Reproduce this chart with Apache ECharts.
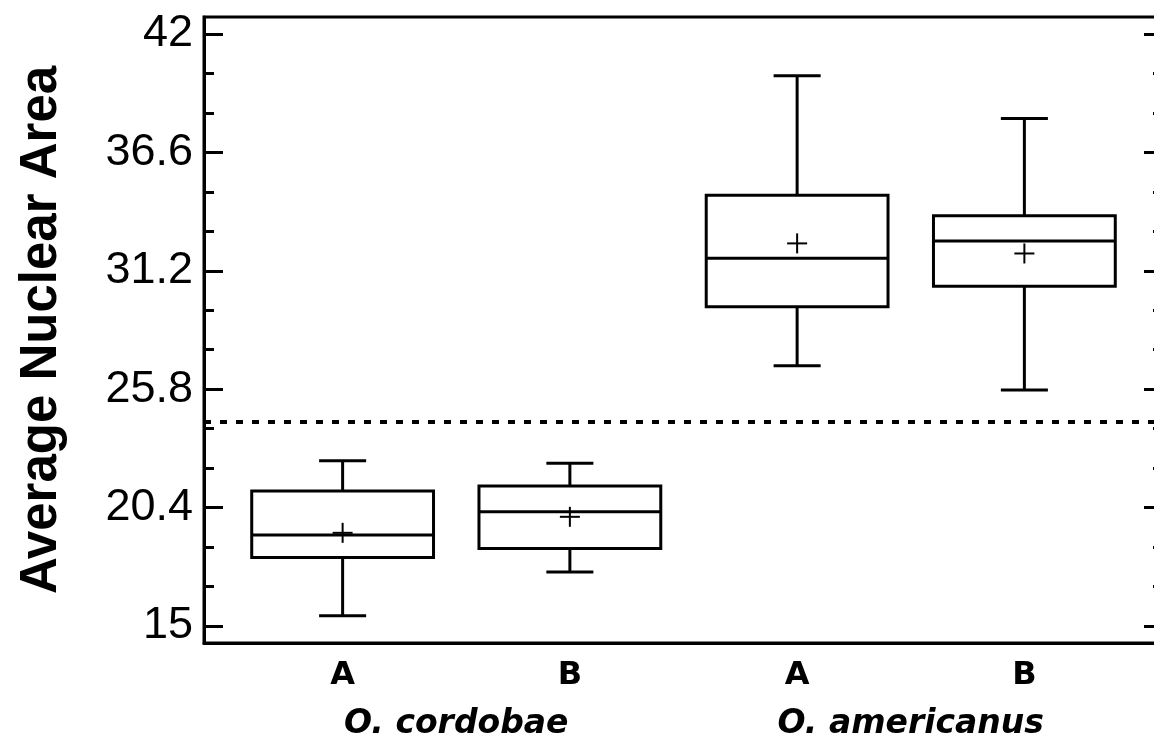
<!DOCTYPE html>
<html>
<head>
<meta charset="utf-8">
<script src="https://cdn.jsdelivr.net/npm/echarts@6/dist/echarts.min.js"></script>
<style>
html,body{margin:0;padding:0;background:#fff;}
#chart{width:1154px;height:740px;}
</style>
</head>
<body>
<div id="chart"></div>
<script>
// ---- data ----
const subgroups = ['A', 'B', 'A', 'B'];
const species = ['O. cordobae', 'O. americanus'];
const positions = [1, 2, 3, 4];
const speciesPositions = [1.5, 3.5];
const whiskerLow = [15.47, 17.46, 26.87, 25.76];
const q1 = [18.13, 18.54, 29.56, 30.50];
const median = [19.15, 20.21, 31.77, 32.56];
const q3 = [21.16, 21.38, 34.65, 33.71];
const whiskerHigh = [22.54, 22.42, 40.09, 38.15];
const means = [19.25, 19.98, 32.45, 31.99];
const threshold = 24.32;
const yMajorTicks = [15, 20.4, 25.8, 31.2, 36.6, 42];
const yMinorTicks = [16.8, 18.6, 22.2, 24, 27.6, 29.4, 33, 34.8, 38.4, 40.2];

const boxData = positions.map((p, i) => [p, whiskerLow[i], q1[i], median[i], q3[i], whiskerHigh[i], means[i]]);

function renderBox(params, api) {
  const x = api.value(0);
  const pLo = api.coord([x, api.value(1)]);
  const pQ1 = api.coord([x, api.value(2)]);
  const pMed = api.coord([x, api.value(3)]);
  const pQ3 = api.coord([x, api.value(4)]);
  const pHi = api.coord([x, api.value(5)]);
  const pMean = api.coord([x, api.value(6)]);
  const cx = pMed[0];
  const hb = api.size([0.8, 0])[0] / 2;
  const hc = api.size([0.207, 0])[0] / 2;
  const pl = 10;
  const s = { stroke: '#000', lineWidth: 3, fill: null };
  const sm = { stroke: '#000', lineWidth: 2, fill: null };
  return {
    type: 'group',
    children: [
      { type: 'rect', shape: { x: cx - hb, y: pQ3[1], width: 2 * hb, height: pQ1[1] - pQ3[1] }, style: { stroke: '#000', lineWidth: 3, fill: 'rgba(0,0,0,0)' } },
      { type: 'line', shape: { x1: cx - hb, y1: pMed[1], x2: cx + hb, y2: pMed[1] }, style: s },
      { type: 'line', shape: { x1: cx, y1: pQ3[1], x2: cx, y2: pHi[1] }, style: s },
      { type: 'line', shape: { x1: cx, y1: pQ1[1], x2: cx, y2: pLo[1] }, style: s },
      { type: 'line', shape: { x1: cx - hc, y1: pHi[1], x2: cx + hc, y2: pHi[1] }, style: s },
      { type: 'line', shape: { x1: cx - hc, y1: pLo[1], x2: cx + hc, y2: pLo[1] }, style: s },
      { type: 'line', shape: { x1: cx - pl, y1: pMean[1], x2: cx + pl, y2: pMean[1] }, style: sm },
      { type: 'line', shape: { x1: cx, y1: pMean[1] - pl, x2: cx, y2: pMean[1] + pl }, style: sm }
    ]
  };
}

const Y_MIN = 14.225, Y_MAX = 42.775;
const X_MIN = 0.39, X_MAX = 4.61;
const tickFont = "'Liberation Sans', Arial, sans-serif";

const chart = echarts.init(document.getElementById('chart'), null, { renderer: 'canvas' });
chart.setOption({
  animation: false,
  backgroundColor: '#fff',
  grid: { left: 204, right: -9, top: 17, bottom: 97, containLabel: false, outerBoundsMode: 'none', show: true, borderColor: '#000', borderWidth: 3, backgroundColor: 'transparent' },
  xAxis: [
    {
      type: 'value', min: X_MIN, max: X_MAX, position: 'bottom',
      axisLine: { show: true, lineStyle: { color: '#000', width: 3 } },
      axisTick: { show: false }, splitLine: { show: false },
      axisLabel: {
        customValues: positions,
        formatter: v => subgroups[Math.round(v) - 1] || '',
        color: '#000', fontSize: 32, fontWeight: 'bold', fontFamily: "'DejaVu Sans', sans-serif", margin: 17
      }
    },
    {
      type: 'value', min: X_MIN, max: X_MAX, position: 'bottom',
      axisLine: { show: false }, axisTick: { show: false }, splitLine: { show: false },
      axisLabel: {
        customValues: speciesPositions,
        formatter: v => species[speciesPositions.indexOf(v)] || '',
        color: '#000', fontSize: 33, fontWeight: 'bold', fontStyle: 'italic', fontFamily: "'DejaVu Sans', sans-serif", margin: 65
      }
    }
  ],
  yAxis: [
    {
      type: 'value', min: Y_MIN, max: Y_MAX, position: 'left',
      name: 'Average Nuclear Area', nameLocation: 'middle', nameRotate: 90, nameGap: 137,
      nameTextStyle: { color: '#000', fontSize: 51, fontWeight: 'bold', fontFamily: "'Liberation Sans', Arial, sans-serif" },
      axisLine: { show: true, lineStyle: { color: '#000', width: 3 } },
      axisTick: { show: true, inside: true, length: 19, customValues: yMajorTicks, lineStyle: { color: '#000', width: 3 } },
      axisLabel: { customValues: yMajorTicks, color: '#000', fontSize: 45, fontFamily: tickFont, margin: 11 },
      splitLine: { show: false }
    },
    {
      type: 'value', min: Y_MIN, max: Y_MAX, position: 'left',
      axisLine: { show: false },
      axisTick: { show: true, inside: true, length: 10, customValues: yMinorTicks, lineStyle: { color: '#000', width: 3 } },
      axisLabel: { show: false }, splitLine: { show: false }
    },
    {
      type: 'value', min: Y_MIN, max: Y_MAX, position: 'right',
      axisLine: { show: true, lineStyle: { color: '#000', width: 3 } },
      axisTick: { show: true, inside: true, length: 19, customValues: yMajorTicks, lineStyle: { color: '#000', width: 3 } },
      axisLabel: { show: false }, splitLine: { show: false }
    },
    {
      type: 'value', min: Y_MIN, max: Y_MAX, position: 'right',
      axisLine: { show: false },
      axisTick: { show: true, inside: true, length: 10, customValues: yMinorTicks, lineStyle: { color: '#000', width: 3 } },
      axisLabel: { show: false }, splitLine: { show: false }
    }
  ],
  series: [
    {
      type: 'custom',
      xAxisIndex: 0, yAxisIndex: 0,
      data: boxData,
      encode: { x: 0, y: [1, 2, 3, 4, 5, 6] },
      renderItem: renderBox,
      silent: true,
      markLine: {
        silent: true, symbol: ['none', 'none'],
        label: { show: false },
        lineStyle: { color: '#000', width: 4, type: [7, 9] },
        data: [{ yAxis: threshold }]
      }
    }
  ]
});
</script>
</body>
</html>
